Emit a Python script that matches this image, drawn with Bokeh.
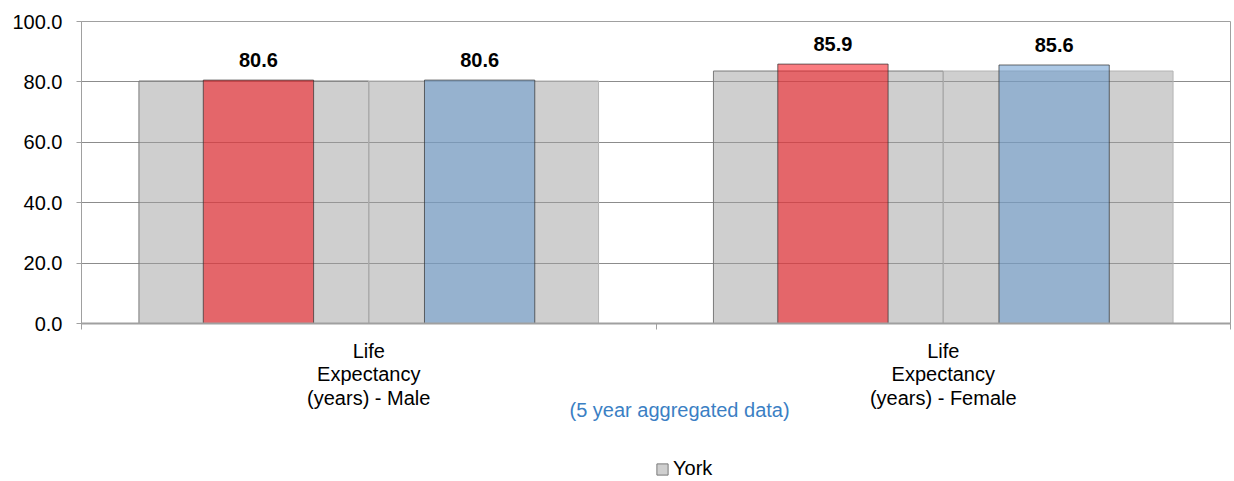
from bokeh.plotting import figure
from bokeh.models import (ColumnDataSource, Range1d, FixedTicker, NumeralTickFormatter,
                          Legend, LegendItem, LinearAxis)
from bokeh.layouts import column
from bokeh.core.properties import value
from bokeh.transform import dodge
from bokeh.embed import file_html
from bokeh.resources import INLINE

# ---- data ----
categories = ["Life\nExpectancy\n(years) - Male", "Life\nExpectancy\n(years) - Female"]
york_left = [80.3, 83.6]
york_right = [80.3, 83.6]
red_series = [80.6, 85.9]
blue_series = [80.6, 85.6]
y_ticks = [0, 20, 40, 60, 80, 100]
legend_label = "York"
subtitle = "(5 year aggregated data)"

FONT = "Liberation Sans"
GRAY_FILL = "#A0A0A0"
GRAY_LINE = "#7A7A7A"
cat_x = [i + 0.5 for i in range(len(categories))]
cat_edges = list(range(len(categories) + 1))
SUB_X = 1.041  # horizontal position of the subtitle (layout)

W = 1232
H1 = 431
H2 = 50

p = figure(width=W, height=H1,
           x_range=Range1d(0, len(categories)), y_range=Range1d(0, 100),
           output_backend="svg", toolbar_location=None,
           min_border_left=81, min_border_right=2, min_border_top=21,
           min_border_bottom=H1 - 323)
p.outline_line_color = "#A0A0A0"
p.background_fill_color = "white"

src = ColumnDataSource(dict(
    x=cat_x, york_left=york_left, york_right=york_right,
    red=red_series, blue=blue_series,
    red_lbl=[f"{v:.1f}" for v in red_series],
    blue_lbl=[f"{v:.1f}" for v in blue_series],
))

p.vbar(x=dodge("x", -0.2, range=p.x_range), top="york_left", bottom=0, width=0.4, source=src,
       fill_color=GRAY_FILL, fill_alpha=0.5, line_color=GRAY_LINE, line_width=1)
p.vbar(x=dodge("x", 0.2, range=p.x_range), top="york_right", bottom=0, width=0.4, source=src,
       fill_color=GRAY_FILL, fill_alpha=0.5, line_color="#B4B4B4", line_width=1)
p.vbar(x=dodge("x", -0.192, range=p.x_range), top="red", bottom=0, width=0.192, source=src,
       fill_color="#F61117", fill_alpha=0.55, line_color="#303030", line_alpha=0.7, line_width=1)
p.vbar(x=dodge("x", 0.193, range=p.x_range), top="blue", bottom=0, width=0.192, source=src,
       fill_color="#679BD0", fill_alpha=0.55, line_color="#303030", line_alpha=0.7, line_width=1)

for off, col, lbl in [(-0.192, "red", "red_lbl"), (0.193, "blue", "blue_lbl")]:
    p.text(x=dodge("x", off, range=p.x_range), y=col, text=lbl, source=src,
           text_font=value(FONT), text_font_size="20px", text_font_style="bold",
           text_color="#000000", text_align="center", text_baseline="middle", y_offset=-20)

# x axis (category labels, tick marks at category boundaries)
xa = p.xaxis[0]
xa.ticker = FixedTicker(ticks=cat_x, minor_ticks=cat_edges)
xa.major_label_overrides = {x: c for x, c in zip(cat_x, categories)}
xa.major_tick_out = 0
xa.major_tick_in = 0
xa.minor_tick_out = 6
xa.minor_tick_in = 0
xa.minor_tick_line_color = "#A0A0A0"
xa.axis_line_color = "#A0A0A0"
xa.axis_line_width = 2
xa.major_label_text_font = FONT
xa.major_label_text_font_size = "20px"
xa.major_label_text_color = "#000000"
xa.major_label_text_line_height = 1.08
xa.major_label_standoff = 10

# second bottom axis carrying the subtitle
sub_axis = LinearAxis(ticker=FixedTicker(ticks=[SUB_X], minor_ticks=[]),
                      major_label_overrides={SUB_X: subtitle})
sub_axis.axis_line_color = None
sub_axis.major_tick_line_color = None
sub_axis.minor_tick_line_color = None
sub_axis.major_tick_out = 0
sub_axis.major_tick_in = 0
sub_axis.major_label_standoff = -14
sub_axis.major_label_text_font = FONT
sub_axis.major_label_text_font_size = "20px"
sub_axis.major_label_text_color = "#3B7FC4"
p.add_layout(sub_axis, "below")

# y axis
ya = p.yaxis[0]
ya.ticker = FixedTicker(ticks=y_ticks, minor_ticks=[])
ya.formatter = NumeralTickFormatter(format="0.0")
ya.major_tick_out = 5
ya.major_tick_in = 0
ya.minor_tick_out = 0
ya.minor_tick_in = 0
ya.major_tick_line_color = "#A0A0A0"
ya.axis_line_color = "#A0A0A0"
ya.major_label_text_font = FONT
ya.major_label_text_font_size = "20px"
ya.major_label_text_color = "#000000"
ya.major_label_standoff = 14

p.ygrid.ticker = FixedTicker(ticks=y_ticks, minor_ticks=[])
p.ygrid.grid_line_color = "#8C8C8C"
p.xgrid.visible = False

# legend strip underneath the chart (frame is aligned with the chart's frame)
p2 = figure(width=W, height=H2, x_range=p.x_range, y_range=Range1d(1000, 1000 + H2),
            output_backend="svg", toolbar_location=None,
            x_axis_location=None, y_axis_location=None,
            min_border_left=0, min_border_right=0, min_border_top=0, min_border_bottom=0)
p2.outline_line_color = None
p2.xgrid.visible = False
p2.ygrid.visible = False
key_src = ColumnDataSource(dict(x=cat_x[:1], york=york_left[:1]))
york_key = p2.vbar(x="x", top="york", bottom=0, width=0.4, source=key_src,
                   fill_color=GRAY_FILL, fill_alpha=0.5, line_color=GRAY_LINE, line_width=1)
legend = Legend(items=[LegendItem(label=legend_label, renderers=[york_key])],
                location=(574, 1), orientation="horizontal",
                glyph_width=14, glyph_height=14, label_standoff=4, padding=0, margin=0,
                spacing=0, border_line_color=None, background_fill_alpha=0,
                label_text_font=FONT, label_text_font_size="20px",
                label_text_color="#000000", label_height=20)
p2.add_layout(legend)

layout = column(p, p2, spacing=0)
open("out.html", "w").write(file_html(layout, INLINE))
